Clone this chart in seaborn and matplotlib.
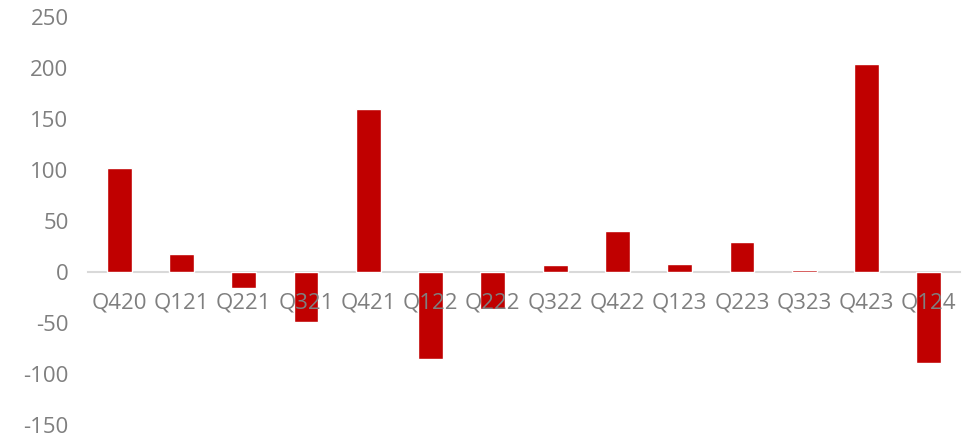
import pandas as pd
import numpy as np
import matplotlib.pyplot as plt
import seaborn as sns

quarters = ["Q420", "Q121", "Q221", "Q321", "Q421", "Q122", "Q222",
            "Q322", "Q422", "Q123", "Q223", "Q323", "Q423", "Q124"]
values = [102, 18, -16, -49, 160, -85.5, -36.5,
          7, 40.5, 7.5, 29, 2, 204, -89.5]
y_ticks = [-150, -100, -50, 0, 50, 100, 150, 200, 250]

df = pd.DataFrame({"quarter": quarters, "value": values})

sns.set_style("white")
plt.rcParams["font.family"] = ["Open Sans", "DejaVu Sans"]
plt.rcParams["axes.unicode_minus"] = False

fig = plt.figure(figsize=(9.69, 4.37), dpi=100)
ax = fig.add_axes([88 / 969, 12 / 437, 872 / 969, 408 / 437])

sns.barplot(data=df, x="quarter", y="value", color="#C00000", width=0.4,
            saturation=1, ax=ax)

ax.set_xlim(-0.5, len(quarters) - 0.5)
ax.set_ylim(-150, 250)
ax.set_yticks(y_ticks)
ax.set_xlabel("")
ax.set_ylabel("")
ax.set_axisbelow(False)  # labels over the bars, like the original

# category axis sits on the zero line
for side in ["top", "right", "left"]:
    ax.spines[side].set_visible(False)
ax.spines["bottom"].set_position(("data", 0))
ax.spines["bottom"].set_color("#D9D9D9")
ax.spines["bottom"].set_linewidth(1.5)
ax.spines["bottom"].set_zorder(0.5)

ax.tick_params(axis="x", length=0, pad=15, labelsize=16, labelcolor="#7F7F7F")
ax.tick_params(axis="y", length=0, pad=14, labelsize=16, labelcolor="#7F7F7F")

fig.savefig("out.png", dpi=100)
